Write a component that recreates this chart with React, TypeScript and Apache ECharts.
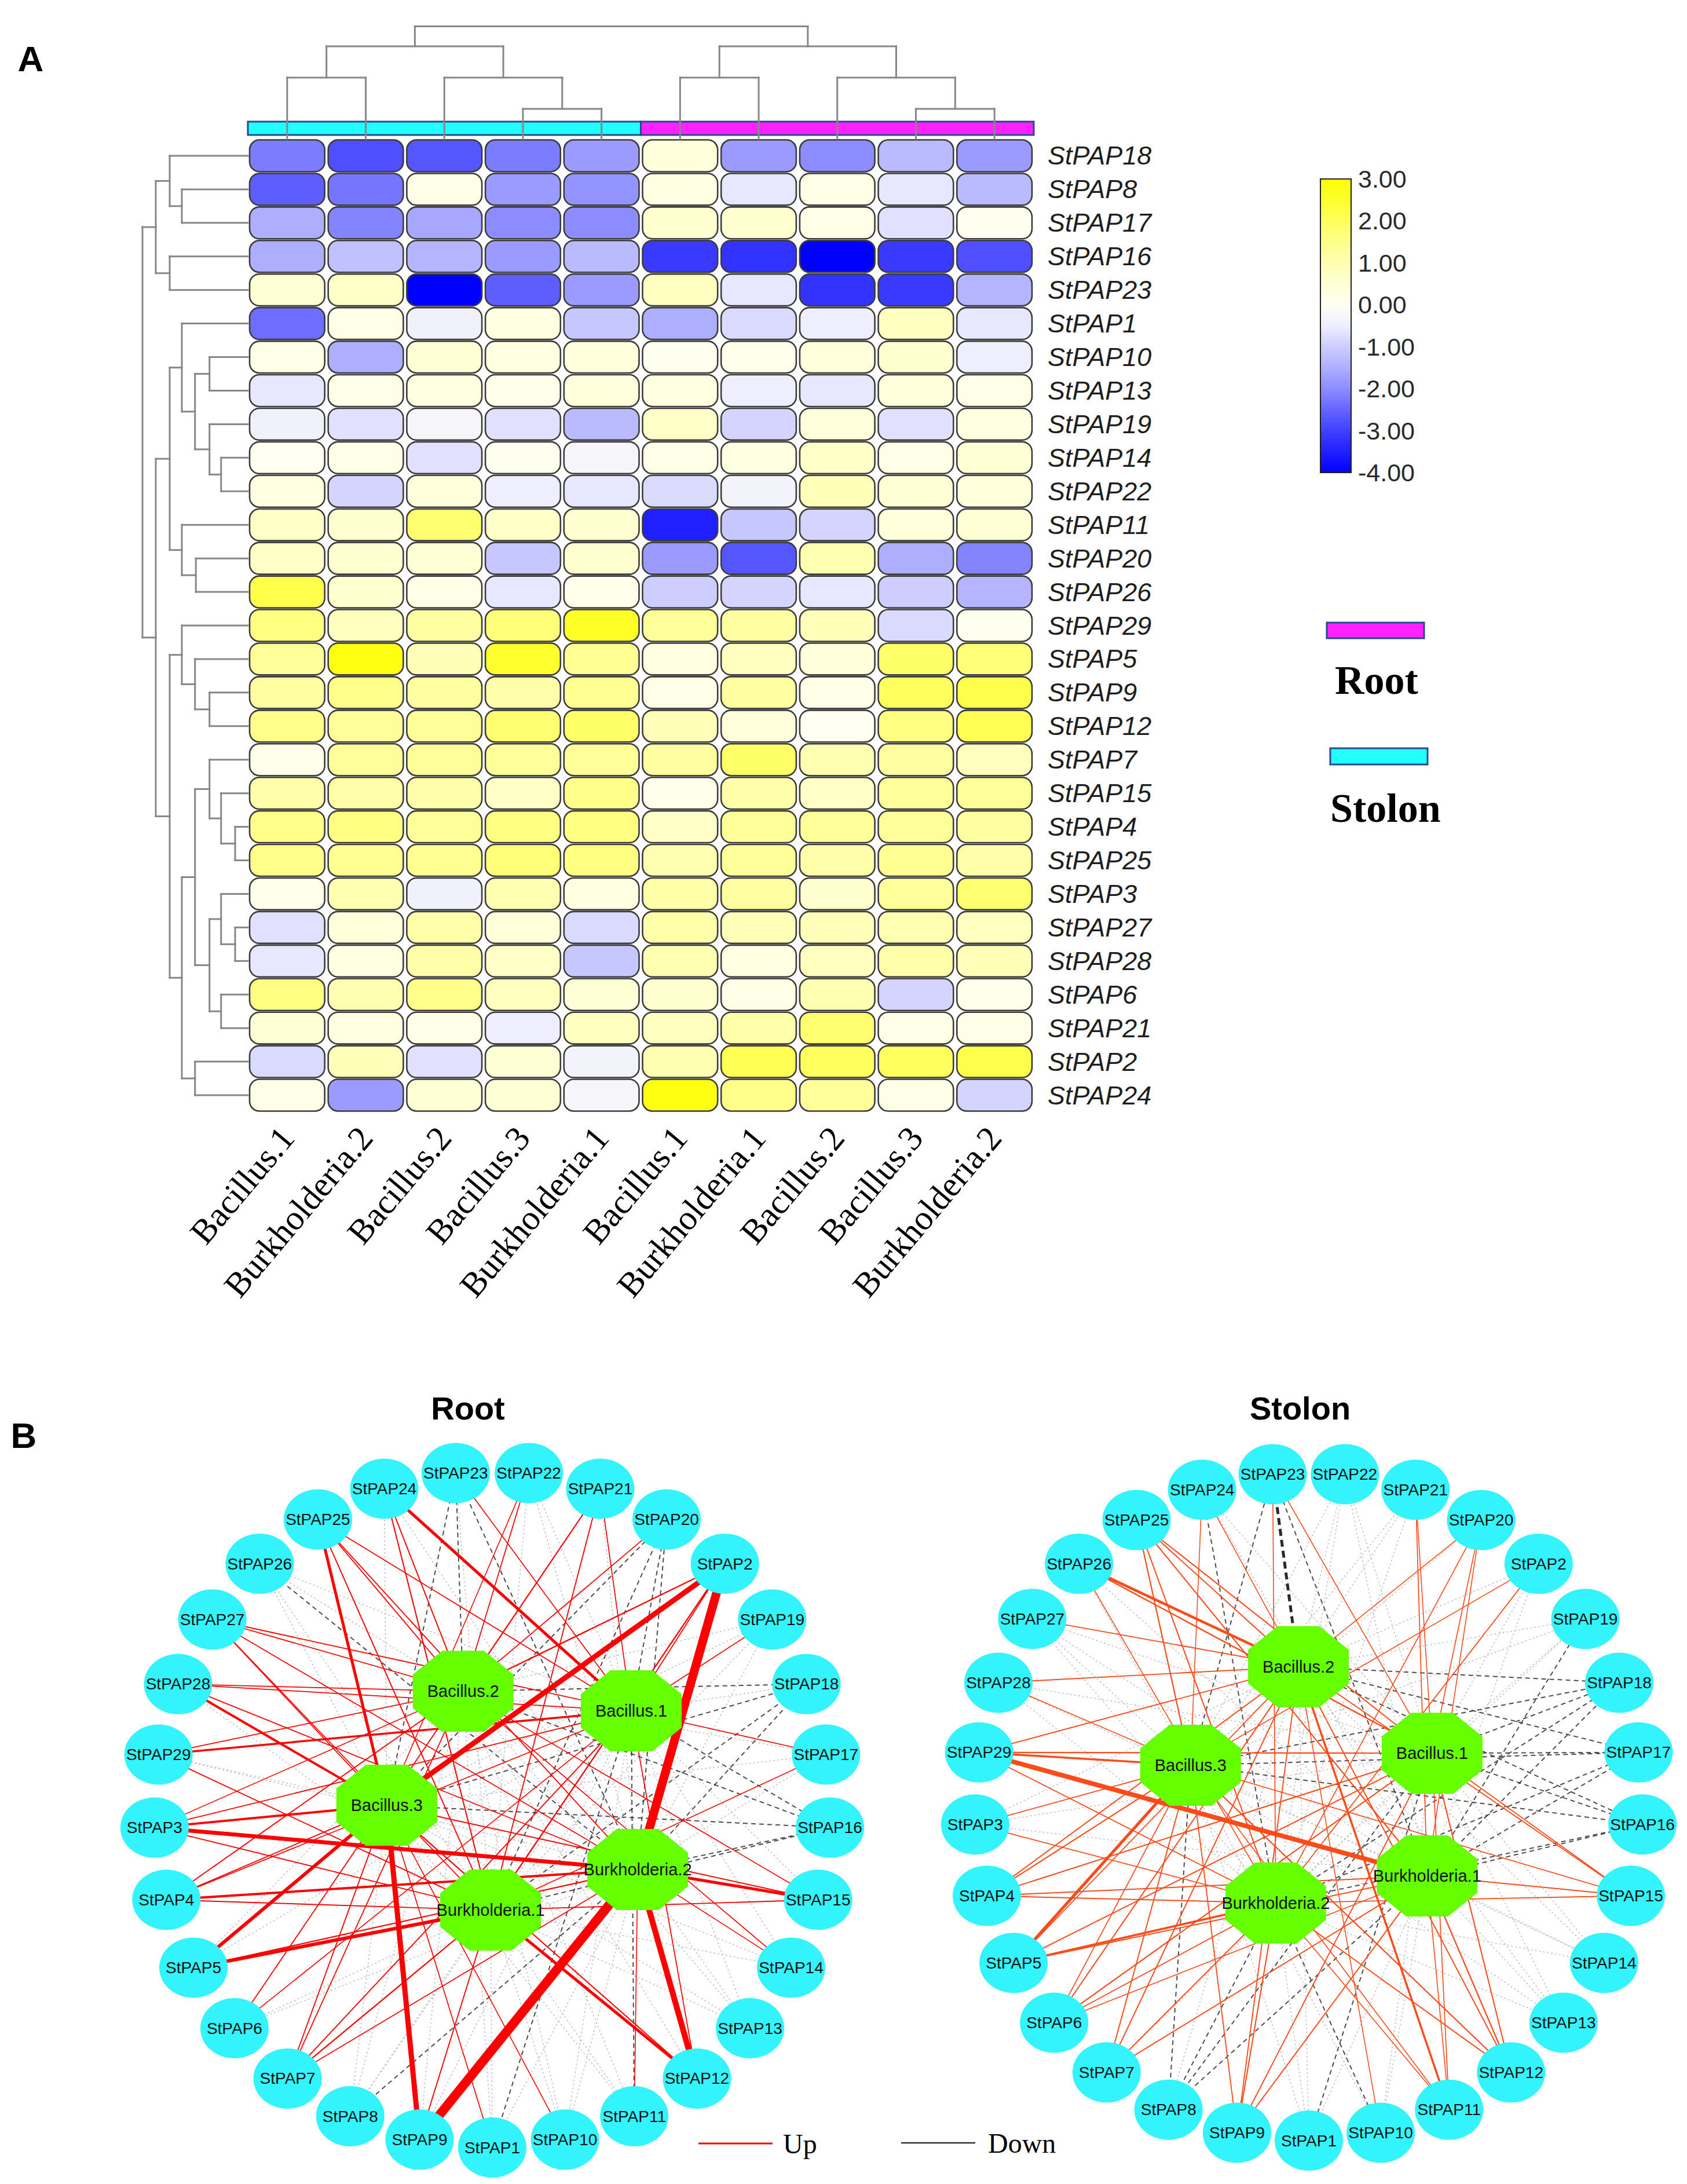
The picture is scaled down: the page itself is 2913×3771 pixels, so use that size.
import React, { useEffect, useRef } from 'react';
import * as echarts from 'echarts';

// ---------------- DATA ----------------
const genes = ['StPAP18','StPAP8','StPAP17','StPAP16','StPAP23','StPAP1','StPAP10','StPAP13','StPAP19','StPAP14','StPAP22','StPAP11','StPAP20','StPAP26','StPAP29','StPAP5','StPAP9','StPAP12','StPAP7','StPAP15','StPAP4','StPAP25','StPAP3','StPAP27','StPAP28','StPAP6','StPAP21','StPAP2','StPAP24'];

const stolonCols = ['Bacillus.1','Burkholderia.2','Bacillus.2','Bacillus.3','Burkholderia.1'];
const rootCols = ['Bacillus.1','Burkholderia.1','Bacillus.2','Bacillus.3','Burkholderia.2'];

// z-scored expression, one row per gene (same order as genes)
const stolonValues = [
  [-2.2,-2.8,-2.7,-2.2,-1.8],
  [-2.6,-2.3,0.2,-1.8,-1.9],
  [-1.5,-2.1,-1.6,-2.0,-2.0],
  [-1.5,-1.2,-1.4,-1.8,-1.3],
  [0.5,0.7,-4.0,-2.6,-1.8],
  [-2.4,0.2,-0.4,0.3,-1.1],
  [0.2,-1.5,0.5,0.3,0.4],
  [-0.6,0.2,0.3,0.1,0.4],
  [-0.4,-0.7,-0.3,-0.7,-1.3],
  [0.0,0.2,-0.7,0.05,-0.3],
  [0.3,-0.9,0.4,-0.5,-0.6],
  [0.7,0.6,1.8,0.7,0.6],
  [0.7,0.6,0.5,-1.1,0.6],
  [2.2,0.6,0.2,-0.6,0.1],
  [1.6,0.8,1.2,1.7,2.6],
  [1.3,2.8,0.9,2.5,1.4],
  [1.2,1.5,1.2,1.1,1.4],
  [1.5,1.3,1.3,1.8,1.9],
  [0.1,1.3,1.3,1.3,1.3],
  [1.1,1.1,1.1,0.7,1.5],
  [1.5,1.6,1.3,1.6,1.6],
  [1.5,1.4,1.4,1.7,1.6],
  [0.1,1.0,-0.4,1.0,0.3],
  [-0.7,0.4,1.1,0.4,-0.8],
  [-0.6,0.3,1.1,0.7,-1.1],
  [1.6,1.0,1.5,0.8,0.5],
  [0.5,0.3,0.2,-0.5,0.8],
  [-0.8,0.9,-0.7,0.5,-0.35],
  [0.2,-1.8,0.5,0.5,-0.3],
];
const rootValues = [
  [0.4,-1.8,-2.0,-1.3,-1.8],
  [0.3,-0.6,0.2,-0.6,-1.3],
  [0.6,0.6,0.2,-0.7,0.05],
  [-3.1,-3.2,-4.0,-3.1,-2.8],
  [0.8,-0.6,-3.2,-3.1,-1.4],
  [-1.5,-0.8,-0.5,0.8,-0.6],
  [0.05,0.1,0.4,0.6,-0.5],
  [0.3,-0.5,-0.6,0.4,0.2],
  [0.7,-0.9,0.4,-0.7,0.3],
  [0.2,0.3,0.7,0.2,0.5],
  [-0.8,-0.35,0.9,0.5,0.4],
  [-3.5,-1.1,-0.9,0.4,0.5],
  [-1.8,-2.7,1.0,-1.5,-2.1],
  [-1.0,-0.9,-0.6,-1.0,-1.4],
  [1.3,1.2,0.9,-0.8,0.05],
  [0.3,0.8,0.4,1.9,1.7],
  [0.2,1.2,0.2,2.0,2.2],
  [0.9,0.4,0.0,1.6,2.1],
  [1.2,1.9,1.0,1.2,0.8],
  [0.1,1.1,0.7,1.3,1.3],
  [0.7,1.3,1.3,1.3,1.2],
  [1.0,1.3,1.1,1.4,1.1],
  [1.1,1.2,0.6,1.3,1.8],
  [1.1,0.9,0.9,1.0,0.8],
  [1.0,0.3,0.8,1.1,0.9],
  [0.6,0.2,1.0,-0.9,0.1],
  [0.8,1.1,1.8,0.2,0.2],
  [1.0,2.1,2.0,2.0,2.2],
  [2.8,1.5,1.3,0.2,-0.9],
];

const colorRange = [-4, 3];
const heatColors = ['#0000ff','#2020ff','#4040ff','#6565ff','#8c8cff','#aeaeff','#cdcdff','#eeeeff','#fffff2','#ffffd6','#ffffb2','#ffff8a','#ffff5e','#ffff2e','#ffff00'];

// column groups (annotation bar)
const groupNames = ['Stolon', 'Root'];
const groupSpans = [[0, 4], [5, 9]];

// dendrograms: [height, left, right]
const rowTree: any = [7.28,
  [6.36, [5.4, 'StPAP18', [4.56, 'StPAP8', 'StPAP17']], [5.4, 'StPAP16', 'StPAP23']],
  [6.36,
    [5.4,
      [4.56, 'StPAP1', [3.65, [2.65, 'StPAP10', 'StPAP13'], [2.65, 'StPAP19', [1.85, 'StPAP14', 'StPAP22']]]],
      [4.56, 'StPAP11', [3.59, 'StPAP20', 'StPAP26']]],
    [5.4,
      [4.56, 'StPAP29', [3.65, 'StPAP5', [2.65, 'StPAP9', 'StPAP12']]],
      [4.56,
        [3.65,
          [2.65, 'StPAP7', [1.85, 'StPAP15', [0.88, 'StPAP4', 'StPAP25']]],
          [2.65, [1.85, 'StPAP3', [0.88, 'StPAP27', 'StPAP28']], [1.85, 'StPAP6', 'StPAP21']]],
        [3.65, 'StPAP2', 'StPAP24']]]]];
const colTree: any = [7.2, [5.93, [3.93, 0, 1], [3.93, 2, [1.93, 3, 4]]], [5.93, [3.93, 5, 6], [3.93, 7, [1.93, 8, 9]]]];

// networks
const ringOrder = ['StPAP1','StPAP9','StPAP8','StPAP7','StPAP6','StPAP5','StPAP4','StPAP3','StPAP29','StPAP28','StPAP27','StPAP26','StPAP25','StPAP24','StPAP23','StPAP22','StPAP21','StPAP20','StPAP2','StPAP19','StPAP18','StPAP17','StPAP16','StPAP15','StPAP14','StPAP13','StPAP12','StPAP11','StPAP10'];
const hubs = ['Bacillus.1','Bacillus.2','Bacillus.3','Burkholderia.1','Burkholderia.2'];
// hub layout positions in ring-radius units (x right, y down)
const rootHubPos = [[0.411,-0.291],[-0.086,-0.349],[-0.312,-0.012],[-0.005,0.298],[0.430,0.178]];
const stolonHubPos = [[0.369,-0.159],[-0.031,-0.418],[-0.354,-0.123],[0.354,0.208],[-0.099,0.289]];
// strongly weighted edges: [gene, hub, width]
const rootStrong: [string, string, number][] = [
  ['StPAP2','Burkholderia.2',15],['StPAP9','Burkholderia.2',16],['StPAP2','Bacillus.3',9],['StPAP9','Bacillus.3',9],
  ['StPAP12','Burkholderia.2',10],['StPAP3','Burkholderia.2',7],['StPAP5','Bacillus.3',6],['StPAP5','Burkholderia.1',6],
  ['StPAP24','Bacillus.1',5],['StPAP25','Bacillus.3',5],['StPAP28','Bacillus.3',4],['StPAP4','Burkholderia.2',4],
  ['StPAP15','Burkholderia.2',5],['StPAP12','Burkholderia.1',5],['StPAP3','Bacillus.3',4],['StPAP29','Bacillus.1',3.5],
];
const stolonStrong: [string, string, number][] = [
  ['StPAP29','Burkholderia.1',8],['StPAP5','Bacillus.3',5],['StPAP26','Bacillus.2',4.5],['StPAP23','Bacillus.2',5],
  ['StPAP29','Bacillus.3',3.5],['StPAP5','Burkholderia.2',3.5],['StPAP11','Bacillus.2',3.5],
];

// ---------------- HELPERS ----------------
function dendro(tree: any, leafPos: (l: any) => number, segs: number[][]): { pos: number; h: number } {
  if (!Array.isArray(tree)) return { pos: leafPos(tree), h: 0 };
  const [h, a, b] = tree;
  const A = dendro(a, leafPos, segs);
  const B = dendro(b, leafPos, segs);
  segs.push([A.h, A.pos, h, A.pos]);
  segs.push([B.h, B.pos, h, B.pos]);
  segs.push([h, A.pos, h, B.pos]);
  return { pos: (A.pos + B.pos) / 2, h };
}

const ellipsePath = 'path://M0,50 A50,50 0 1,1 100,50 A50,50 0 1,1 0,50 Z';
const octPath = 'path://M29.3,0 L70.7,0 L100,29.3 L100,70.7 L70.7,100 L29.3,100 L0,70.7 L0,29.3 Z';

function edgeStyle(v: number, strongW: number, upColor: string) {
  if (strongW) {
    return v < 0
      ? { color: '#2a2a2a', width: strongW, type: [12, 7], opacity: 1, rank: 2 }
      : { color: upColor, width: strongW, type: 'solid', opacity: 1, rank: 3 + strongW };
  }
  if (v >= 0.45) return { color: upColor, width: 1.3 + 0.5 * v, type: 'solid', opacity: 1, rank: 3 };
  if (v <= -1.2) return { color: '#3a3a3a', width: 2, type: [8, 6], opacity: 0.9, rank: 1 };
  return { color: '#bdbdbd', width: 1.6, type: [3, 4], opacity: 0.9, rank: 0 };
}

function buildNetwork(values: number[][], cols: string[], hubPos: number[][], strong: [string, string, number][], upColor: string, gridIdx: number) {
  const n = ringOrder.length;
  const nodes: any[] = ringOrder.map((g, k) => {
    const a = (k * 2 * Math.PI) / n;
    return {
      name: g, value: [-Math.sin(a), Math.cos(a)], symbol: ellipsePath, symbolSize: [118, 104],
      itemStyle: { color: '#33f4fc' }, label: { fontSize: 28 },
    };
  });
  hubs.forEach((h, i) => nodes.push({
    name: h, value: hubPos[i], symbol: octPath, symbolSize: [174, 140],
    itemStyle: { color: '#66ff00' }, label: { fontSize: 29 },
  }));
  const links: any[] = [];
  genes.forEach((g, r) => cols.forEach((h, c) => {
    const v = values[r][c];
    const s = strong.find((e) => e[0] === g && e[1] === h);
    const st: any = edgeStyle(v, s ? s[2] : 0, upColor);
    links.push({ source: h, target: g, rank: st.rank, lineStyle: { color: st.color, width: st.width, type: st.type, opacity: st.opacity } });
  }));
  links.sort((a, b) => a.rank - b.rank);
  return {
    type: 'graph', layout: 'none', coordinateSystem: 'cartesian2d', xAxisIndex: gridIdx, yAxisIndex: gridIdx,
    silent: true, z: 5,
    data: nodes,
    links: links.map(({ rank, ...l }) => l),
    label: { show: true, position: 'inside', formatter: '{b}', color: '#111', fontFamily: 'Liberation Sans' },
    lineStyle: { curveness: 0 },
    emphasis: { disabled: true },
  };
}

function buildOption() {
  const colIds = stolonCols.map((c) => 'Stolon|' + c).concat(rootCols.map((c) => 'Root|' + c));
  const heatData: number[][] = [];
  genes.forEach((g, r) => {
    for (let c = 0; c < 10; c++) heatData.push([c, r, c < 5 ? stolonValues[r][c] : rootValues[r][c - 5]]);
  });

  const rowSegs: number[][] = [];
  dendro(rowTree, (l) => genes.indexOf(l), rowSegs);
  const colSegsRaw: number[][] = [];
  dendro(colTree, (l) => l, colSegsRaw);
  const colSegs = colSegsRaw.map((s) => [s[1], s[0], s[3], s[2]]);

  const segRender = (params: any, api: any) => {
    const p1 = api.coord([api.value(0), api.value(1)]);
    const p2 = api.coord([api.value(2), api.value(3)]);
    return { type: 'line', shape: { x1: p1[0], y1: p1[1], x2: p2[0], y2: p2[1] }, style: { stroke: '#878787', lineWidth: 3, lineCap: 'square' } };
  };

  const stops = heatColors.map((c, i) => ({ offset: i / (heatColors.length - 1), color: heatColors[heatColors.length - 1 - i] }));

  const hiddenVal = (gridIndex: number, min: number, max: number, inverse = false) => ({
    type: 'value', gridIndex, min, max, inverse, show: false, splitLine: { show: false },
  });

  const R1 = 584, R2 = 577;
  const ext = 1.1;

  return {
    animation: false,
    backgroundColor: '#ffffff',
    grid: [
      { left: 428, top: 240, width: 1357, height: 1680 },
      { left: 200, top: 240, width: 228, height: 1680 },
      { left: 428, top: 24, width: 1357, height: 216 },
      { left: 2280, top: 309, width: 53, height: 507 },
      { left: 850 - ext * R1, top: 3124 - ext * R1, width: 2 * ext * R1, height: 2 * ext * R1 },
      { left: 2260 - ext * R2, top: 3119 - ext * R2, width: 2 * ext * R2, height: 2 * ext * R2 },
    ],
    xAxis: [
      {
        type: 'category', gridIndex: 0, data: colIds, position: 'bottom',
        axisLine: { show: false }, axisTick: { show: false }, splitLine: { show: false },
        axisLabel: { interval: 0, rotate: 50, margin: 34, fontFamily: 'Liberation Serif', fontSize: 60, color: '#000', formatter: (v: string) => v.split('|')[1] },
      },
      hiddenVal(1, 0, 9.12, true),
      hiddenVal(2, -0.5, 9.5),
      { type: 'value', gridIndex: 3, min: 0, max: 1, show: false },
      hiddenVal(4, -ext, ext),
      hiddenVal(5, -ext, ext),
    ],
    yAxis: [
      {
        type: 'category', gridIndex: 0, data: genes, inverse: true, position: 'right',
        axisLine: { show: false }, axisTick: { show: false }, splitLine: { show: false },
        axisLabel: { interval: 0, margin: 24, fontFamily: 'Liberation Sans', fontStyle: 'italic', fontSize: 45, color: '#1e1e1e' },
      },
      hiddenVal(1, -0.5, genes.length - 0.5, true),
      hiddenVal(2, 0, 8),
      {
        type: 'value', gridIndex: 3, min: colorRange[0], max: colorRange[1], interval: 1, position: 'right',
        splitLine: { show: false },
        axisLine: { show: true, lineStyle: { color: '#222', width: 2 } },
        axisTick: { show: true, length: 9, lineStyle: { color: '#222', width: 2 } },
        axisLabel: { margin: 12, fontFamily: 'Liberation Sans', fontSize: 43, color: '#2a2a2a', formatter: (v: number) => v.toFixed(2) },
      },
      hiddenVal(4, -ext, ext, true),
      hiddenVal(5, -ext, ext, true),
    ],
    visualMap: {
      type: 'continuous', show: false, min: colorRange[0], max: colorRange[1], dimension: 2, seriesIndex: 0,
      inRange: { color: heatColors },
    },
    series: [
      {
        type: 'custom', xAxisIndex: 0, yAxisIndex: 0, data: heatData, encode: { x: 0, y: 1 }, silent: true,
        renderItem: (params: any, api: any) => {
          const c = api.coord([api.value(0), api.value(1)]);
          const s = api.size([1, 1]);
          return {
            type: 'rect',
            shape: { x: c[0] - s[0] / 2 + 3, y: c[1] - s[1] / 2 + 1.5, width: s[0] - 6, height: s[1] - 3, r: 17 },
            style: { fill: api.visual('color'), stroke: '#3c3c3c', lineWidth: 2.6 },
          };
        },
      },
      {
        type: 'custom', xAxisIndex: 1, yAxisIndex: 1, data: rowSegs, encode: { x: [0, 2], y: [1, 3] }, silent: true,
        renderItem: segRender,
      },
      {
        type: 'custom', xAxisIndex: 2, yAxisIndex: 2, silent: true, z: 1,
        data: groupSpans.map((s, i) => [s[0] - 0.5, s[1] + 0.5, i]), encode: { x: [0, 1] },
        renderItem: (params: any, api: any) => {
          const p1 = api.coord([api.value(0), 1.11]);
          const p2 = api.coord([api.value(1), 0.26]);
          const isStolon = groupNames[api.value(2)] === 'Stolon';
          return {
            type: 'rect', shape: { x: p1[0], y: p1[1], width: p2[0] - p1[0], height: p2[1] - p1[1] },
            style: { fill: isStolon ? '#22ffff' : '#ff22ff', stroke: '#274a8e', lineWidth: 3 },
          };
        },
      },
      {
        type: 'custom', xAxisIndex: 2, yAxisIndex: 2, data: colSegs, encode: { x: [0, 2], y: [1, 3] }, silent: true, z: 3,
        renderItem: segRender,
      },
      {
        type: 'custom', xAxisIndex: 3, yAxisIndex: 3, silent: true,
        data: [[0, colorRange[0], 1, colorRange[1]]], encode: { x: [0, 2], y: [1, 3] },
        renderItem: (params: any, api: any) => {
          const p1 = api.coord([api.value(0), api.value(3)]);
          const p2 = api.coord([api.value(2), api.value(1)]);
          return {
            type: 'rect', shape: { x: p1[0], y: p1[1], width: p2[0] - p1[0], height: p2[1] - p1[1] },
            style: { fill: new echarts.graphic.LinearGradient(0, 0, 0, 1, stops), stroke: '#222', lineWidth: 2 },
          };
        },
      },
      buildNetwork(rootValues, rootCols, rootHubPos, rootStrong, '#ff0000', 4),
      buildNetwork(stolonValues, stolonCols, stolonHubPos, stolonStrong, '#ff4a1a', 5),
    ],
    graphic: [
      { type: 'text', style: { text: 'A', x: 53, y: 101, font: 'bold 62px "Liberation Sans"', fill: '#000', align: 'center', verticalAlign: 'middle', textAlign: 'center', textVerticalAlign: 'middle' } },
      { type: 'text', style: { text: 'B', x: 41, y: 2478, font: 'bold 62px "Liberation Sans"', fill: '#000', align: 'center', verticalAlign: 'middle', textAlign: 'center', textVerticalAlign: 'middle' } },
      { type: 'rect', shape: { x: 2291, y: 1075, width: 168, height: 27 }, style: { fill: '#ff22ff', stroke: '#274a8e', lineWidth: 3 } },
      { type: 'text', style: { text: 'Root', x: 2305, y: 1174, font: 'bold 70px "Liberation Serif"', fill: '#000', align: 'left', verticalAlign: 'middle', textAlign: 'left', textVerticalAlign: 'middle' } },
      { type: 'rect', shape: { x: 2297, y: 1292, width: 168, height: 28 }, style: { fill: '#22ffff', stroke: '#274a8e', lineWidth: 3 } },
      { type: 'text', style: { text: 'Stolon', x: 2297, y: 1395, font: 'bold 70px "Liberation Serif"', fill: '#000', align: 'left', verticalAlign: 'middle', textAlign: 'left', textVerticalAlign: 'middle' } },
      { type: 'text', style: { text: 'Root', x: 808, y: 2431, font: 'bold 56px "Liberation Sans"', fill: '#000', align: 'center', verticalAlign: 'middle', textAlign: 'center', textVerticalAlign: 'middle' } },
      { type: 'text', style: { text: 'Stolon', x: 2245, y: 2431, font: 'bold 56px "Liberation Sans"', fill: '#000', align: 'center', verticalAlign: 'middle', textAlign: 'center', textVerticalAlign: 'middle' } },
      { type: 'line', shape: { x1: 1206, y1: 3701, x2: 1334, y2: 3701 }, style: { stroke: '#ff0000', lineWidth: 3 } },
      { type: 'text', style: { text: 'Up', x: 1352, y: 3701, font: '48px "Liberation Serif"', fill: '#000', align: 'left', verticalAlign: 'middle', textAlign: 'left', textVerticalAlign: 'middle' } },
      { type: 'line', shape: { x1: 1556, y1: 3700, x2: 1684, y2: 3700 }, style: { stroke: '#333333', lineWidth: 2.5 } },
      { type: 'text', style: { text: 'Down', x: 1706, y: 3700, font: '48px "Liberation Serif"', fill: '#000', align: 'left', verticalAlign: 'middle', textAlign: 'left', textVerticalAlign: 'middle' } },
    ],
  };
}

export default function App() {
  const ref = useRef<HTMLDivElement>(null);
  useEffect(() => {
    const chart = echarts.init(ref.current as HTMLDivElement, null, { renderer: 'svg' });
    chart.setOption(buildOption() as any);
    return () => chart.dispose();
  }, []);
  return <div ref={ref} style={{ position: 'absolute', left: 0, top: 0, width: 2913, height: 3771, background: '#ffffff' }} />;
}
